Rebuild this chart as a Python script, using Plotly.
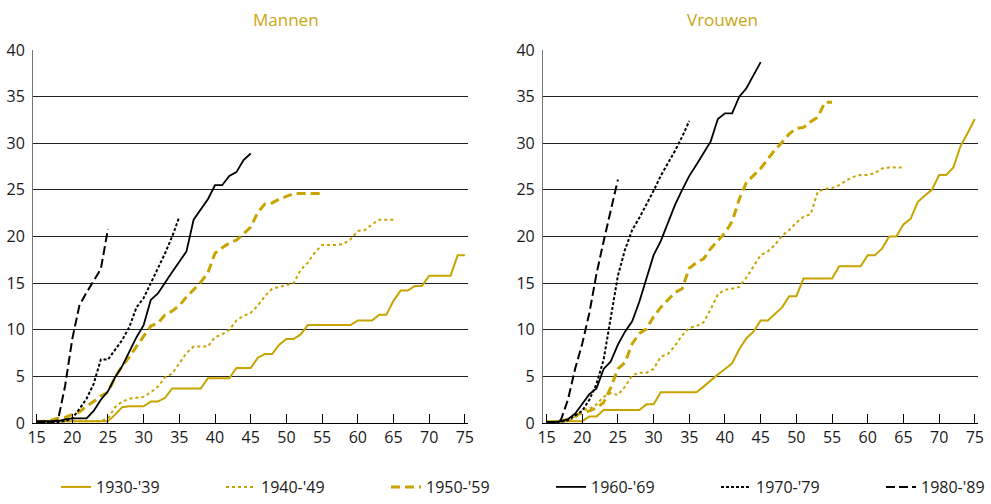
import plotly.graph_objects as go

GOLD = "#C8A400"
BLACK = "#000000"

ages = list(range(15, 76))
tick_vals = [15, 20, 25, 30, 35, 40, 45, 50, 55, 60, 65, 70, 75]
cohorts = ["1930-'39", "1940-'49", "1950-'59", "1960-'69", "1970-'79", "1980-'89"]

# Mannen, cumulative %, starting at age 15
m_1930 = [0.2] * 11 + [0.9, 1.7, 1.8, 1.8, 1.8, 2.3, 2.3, 2.7, 3.7, 3.7, 3.7, 3.7, 3.7,
                       4.8, 4.8, 4.8, 4.8, 5.9, 5.9, 5.9, 7.0, 7.4, 7.4, 8.4, 9.0, 9.0,
                       9.5, 10.5, 10.5, 10.5, 10.5, 10.5, 10.5, 10.5, 11.0, 11.0, 11.0,
                       11.6, 11.6, 13.1, 14.2, 14.2, 14.7, 14.7, 15.8, 15.8, 15.8, 15.8,
                       18.0, 18.0]
m_1940 = [0.2] * 10 + [0.5, 1.7, 2.3, 2.6, 2.7, 2.8, 3.3, 3.9, 4.9, 5.3, 6.4, 7.5, 8.2,
                       8.2, 8.2, 9.2, 9.5, 10.0, 11.0, 11.5, 11.8, 12.6, 13.6, 14.4, 14.6,
                       14.8, 15.0, 16.4, 17.2, 18.3, 19.1, 19.1, 19.1, 19.2, 19.7, 20.6,
                       20.7, 21.3, 21.8, 21.8, 21.8]
m_1950 = [0.1, 0.2, 0.3, 0.5, 0.6, 0.9, 1.2, 1.8, 2.3, 2.9, 3.3, 4.9, 6.1, 7.1, 8.2, 9.2,
          10.4, 10.7, 11.6, 12.0, 12.6, 13.5, 14.3, 15.1, 16.1, 18.2, 18.8, 19.3, 19.6,
          20.3, 21.0, 22.6, 23.5, 23.6, 24.0, 24.3, 24.6, 24.6, 24.6, 24.6, 24.6]
m_1960 = [0.2, 0.2, 0.2, 0.2, 0.4, 0.5, 0.5, 0.5, 1.3, 2.5, 3.4, 4.9, 6.1, 7.7, 9.2, 10.5,
          13.2, 13.9, 15.1, 16.2, 17.3, 18.4, 21.8, 22.9, 24.0, 25.5, 25.5, 26.5, 26.9,
          28.2, 28.9]
m_1970 = [0.1, 0.1, 0.1, 0.1, 0.2, 0.5, 1.5, 2.6, 4.2, 6.8, 6.8, 7.8, 8.9, 10.3, 12.4,
          13.4, 15.0, 16.7, 18.2, 20.0, 22.1]
m_1980 = [0.1, 0.1, 0.1, 0.3, 4.0, 9.0, 12.6, 14.0, 15.2, 16.5, 20.8]

# Vrouwen
v_1930 = [0.2] * 6 + [0.7, 0.7, 1.4, 1.4, 1.4, 1.4, 1.4, 1.4, 2.0, 2.0, 3.3, 3.3, 3.3,
                      3.3, 3.3, 3.3, 3.9, 4.6, 5.2, 5.8, 6.4, 7.9, 9.1, 9.8, 11.0, 11.0,
                      11.7, 12.4, 13.6, 13.6, 15.5, 15.5, 15.5, 15.5, 15.5, 16.8, 16.8,
                      16.8, 16.8, 18.0, 18.0, 18.7, 20.0, 20.0, 21.3, 21.9, 23.7, 24.4,
                      25.0, 26.6, 26.6, 27.4, 29.7, 31.1, 32.6]
v_1940 = [0.1, 0.1, 0.1, 0.2, 0.5, 1.4, 1.5, 2.0, 2.8, 3.2, 3.0, 3.9, 5.1, 5.4, 5.4, 5.8,
          7.1, 7.4, 8.3, 9.4, 10.2, 10.4, 10.8, 12.2, 13.8, 14.3, 14.4, 14.6, 15.6, 16.8,
          18.0, 18.4, 19.1, 20.1, 20.7, 21.5, 22.1, 22.4, 24.8, 25.1, 25.2, 25.5, 26.0,
          26.4, 26.6, 26.6, 26.8, 27.3, 27.4, 27.4, 27.4]
v_1950 = [0.1, 0.1, 0.2, 0.4, 0.8, 1.1, 1.3, 1.6, 2.2, 3.8, 5.8, 6.5, 8.5, 9.6, 10.1, 11.4,
          12.4, 13.2, 14.0, 14.4, 16.6, 17.2, 17.6, 18.7, 19.6, 20.4, 21.6, 24.0, 25.8,
          26.5, 27.3, 28.3, 29.3, 30.1, 31.0, 31.6, 31.7, 32.3, 32.8, 34.4, 34.4]
v_1960 = [0.1, 0.1, 0.2, 0.4, 1.0, 2.1, 3.1, 3.7, 5.8, 6.6, 8.4, 9.8, 10.9, 13.0, 15.6,
          18.0, 19.5, 21.4, 23.4, 25.0, 26.5, 27.7, 29.0, 30.2, 32.6, 33.2, 33.2, 35.0,
          35.9, 37.3, 38.7]
v_1970 = [0.1, 0.1, 0.1, 0.3, 0.8, 1.3, 2.5, 4.2, 6.8, 11.5, 15.8, 18.6, 20.7, 22.0, 23.4,
          24.9, 26.5, 27.8, 29.2, 30.7, 32.4]
v_1980 = [0.1, 0.1, 0.3, 2.5, 5.8, 8.5, 11.8, 16.0, 19.5, 22.8, 26.1]

styles = [
    dict(color=GOLD, width=2, dash="solid"),
    dict(color=GOLD, width=2, dash="3px,3px"),
    dict(color=GOLD, width=3, dash="9px,5px"),
    dict(color=BLACK, width=1.8, dash="solid"),
    dict(color=BLACK, width=2, dash="3px,2px"),
    dict(color=BLACK, width=2, dash="9px,4px"),
]

men = [m_1930, m_1940, m_1950, m_1960, m_1970, m_1980]
women = [v_1930, v_1940, v_1950, v_1960, v_1970, v_1980]
legend_ids = ["legend", "legend2", "legend3", "legend4", "legend5", "legend6"]

fig = go.Figure()
for name, st, ys, lg in zip(cohorts, styles, men, legend_ids):
    fig.add_trace(go.Scatter(x=ages[:len(ys)], y=ys, mode="lines", name=name,
                             line=st, xaxis="x", yaxis="y", legend=lg))
for name, st, ys in zip(cohorts, styles, women):
    fig.add_trace(go.Scatter(x=ages[:len(ys)], y=ys, mode="lines", name=name,
                             line=st, xaxis="x2", yaxis="y2", showlegend=False))

font = dict(family="Open Sans, sans-serif", size=16, color="#1a1a1a")

xax = dict(range=[14.5, 75.45], tickvals=tick_vals, ticks="inside", ticklen=9,
           tickcolor="#000", showline=True, linecolor="#000", linewidth=1,
           showgrid=False, zeroline=False, tickfont=font, fixedrange=True,
           automargin=False)
yax = dict(range=[0, 40], tickvals=[0, 5, 10, 15, 20, 25, 30, 35, 40], ticks="",
           showline=True, linecolor="#777", linewidth=1, showgrid=True,
           gridcolor="#222", gridwidth=1, zeroline=False, tickfont=font,
           ticklabelstandoff=4, domain=[0.1607, 0.9008], fixedrange=True,
           automargin=False)

title_font = dict(family="Open Sans, sans-serif", size=17, color="#C9A60F")
legend_font = dict(family="Liberation Sans Narrow, Open Sans, sans-serif", size=16,
                   color="#1a1a1a")

layout_legends = {}
for i, lg in enumerate(legend_ids):
    layout_legends[lg] = dict(orientation="h", x=(56 + i * 165) / 991, xanchor="left",
                              y=0.0, yanchor="bottom", font=legend_font,
                              bgcolor="rgba(0,0,0,0)")

fig.update_layout(
    width=991, height=504,
    margin=dict(l=0, r=0, t=0, b=0),
    paper_bgcolor="white", plot_bgcolor="white",
    xaxis=dict(xax, domain=[0.0333, 0.4723], anchor="y"),
    yaxis=dict(yax, anchor="x"),
    xaxis2=dict(xax, domain=[0.5479, 0.9869], anchor="y2"),
    yaxis2=dict(yax, anchor="x2"),
    showlegend=True,
    annotations=[
        dict(text="Mannen", x=0.2528, y=1 - 20 / 504, xref="paper", yref="paper",
             yanchor="middle", showarrow=False, font=title_font),
        dict(text="Vrouwen", x=0.7674, y=1 - 20 / 504, xref="paper", yref="paper",
             yanchor="middle", showarrow=False, font=title_font),
    ],
    **layout_legends,
)

fig.write_html("out.html", config={"displayModeBar": False},
               post_script="document.body.style.margin='0';document.body.style.overflow='hidden';")
